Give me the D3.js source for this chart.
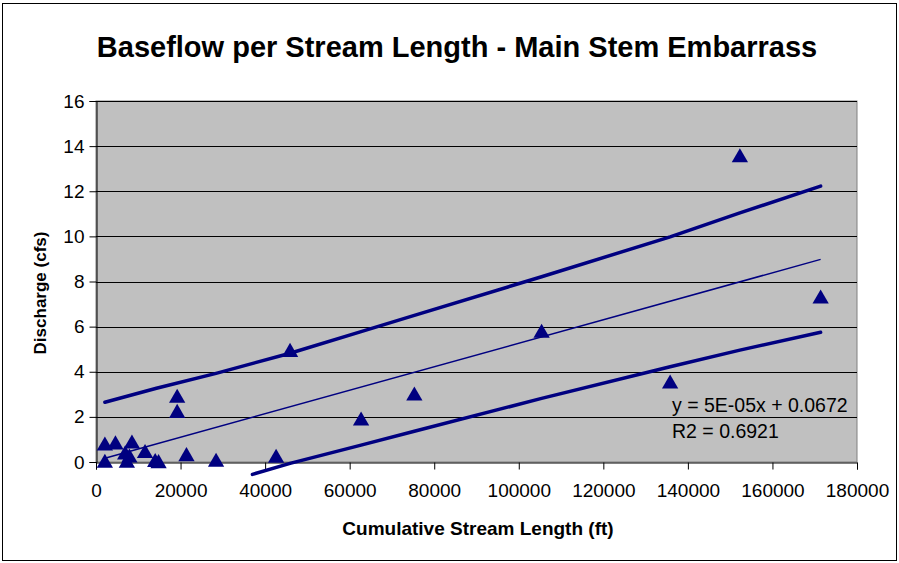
<!DOCTYPE html>
<html><head><meta charset="utf-8">
<script src="https://cdn.jsdelivr.net/npm/d3@7"></script>
<style>body{margin:0;background:#fff}svg{display:block}</style>
</head><body>
<svg id="c" width="899" height="563"></svg>
<script>
const title = "Baseflow per Stream Length - Main Stem Embarrass";
const xTitle = "Cumulative Stream Length (ft)";
const yTitle = "Discharge (cfs)";
const xTicks = [0,20000,40000,60000,80000,100000,120000,140000,160000,180000];
const yTicks = [0,2,4,6,8,10,12,14,16];
const pointX = [2100,2100,4600,6900,7300,7900,8500,11600,14000,14800,19200,19200,21400,28400,42600,45900,62700,75300,105400,135800,152300,171400];
const pointY = [0.78,0.02,0.83,0.39,0.02,0.25,0.87,0.45,0.05,0.0,2.9,2.23,0.31,0.06,0.24,4.93,1.89,3.0,5.78,3.53,13.56,7.3];
const trendX = [2100,171400];
const trendY = [0.17,8.98];
const upperX = [2100,14300,28400,45900,62700,75300,105400,135800,152300,171400];
const upperY = [2.65,3.27,3.93,4.82,5.78,6.50,8.21,9.98,11.04,12.23];
const lowerX = [37000,45900,62700,75300,105400,135800,152300,171400];
const lowerY = [-0.55,-0.06,0.75,1.36,2.82,4.22,4.96,5.75];
const eqLines = ["y = 5E-05x + 0.0672","R2 = 0.6921"];

const svg = d3.select("#c");
const W=899,H=563;
const L=96,R=857,T=101,B=462;
const x = d3.scaleLinear().domain([0,180000]).range([L,R]);
const y = d3.scaleLinear().domain([0,16]).range([B,T]);
const font = "'Liberation Sans', Arial, sans-serif";
const navy = "#000080";

svg.append("rect").attr("x",2.5).attr("y",3.5).attr("width",W-5).attr("height",H-6)
  .attr("fill","#fff").attr("stroke","#000").attr("stroke-width",1);

svg.append("rect").attr("x",L).attr("y",T).attr("width",R-L).attr("height",B-T)
  .attr("fill","#c0c0c0").attr("stroke","#808080");

// gridlines
svg.append("g").selectAll("line").data(yTicks.filter(d=>d>0)).join("line")
  .attr("x1",L).attr("x2",R).attr("y1",d=>Math.round(y(d))+0.5).attr("y2",d=>Math.round(y(d))+0.5)
  .attr("stroke","#000").attr("stroke-width",1);

// y axis
const ya = d3.axisLeft(y).tickValues(yTicks).tickSize(7).tickPadding(5).tickFormat(d3.format("d"));
const gy = svg.append("g").attr("transform",`translate(${L+0.5},0)`).call(ya);
gy.selectAll("text").attr("font-family",font).attr("font-size",19).attr("fill","#000");
gy.select(".domain").attr("stroke","#000");
gy.selectAll(".tick line").attr("stroke","#000");

// x axis
const xa = d3.axisBottom(x).tickValues(xTicks).tickSize(7).tickPadding(14).tickFormat(d3.format("d"));
const gx = svg.append("g").attr("transform",`translate(0,${B+0.5})`).call(xa);
gx.selectAll("text").attr("font-family",font).attr("font-size",19).attr("fill","#000");
gx.select(".domain").attr("stroke","#000");
gx.selectAll(".tick line").attr("stroke","#000");

// lines
const line = d3.line().x(d=>x(d[0])).y(d=>y(d[1]));
svg.append("path").datum(upperX.map((v,i)=>[v,upperY[i]])).attr("d",line)
  .attr("fill","none").attr("stroke",navy).attr("stroke-width",3.5).attr("stroke-linecap","round");
svg.append("path").datum(lowerX.map((v,i)=>[v,lowerY[i]])).attr("d",line)
  .attr("fill","none").attr("stroke",navy).attr("stroke-width",3.5).attr("stroke-linecap","round");
svg.append("path").datum(trendX.map((v,i)=>[v,trendY[i]])).attr("d",line)
  .attr("fill","none").attr("stroke",navy).attr("stroke-width",1.5);

// markers
const tri = d3.symbol().type(d3.symbolTriangle).size(115);
svg.append("g").selectAll("path").data(pointX.map((v,i)=>[v,pointY[i]])).join("path")
  .attr("d",tri).attr("transform",d=>`translate(${x(d[0])},${y(d[1])+1.5})`)
  .attr("fill",navy);

// equation
svg.append("g").selectAll("text").data(eqLines).join("text")
  .attr("x",672).attr("y",(d,i)=>412+i*26).text(d=>d)
  .attr("font-family",font).attr("font-size",19.5).attr("fill","#000");

// titles
svg.append("text").attr("x",457).attr("y",57).attr("text-anchor","middle")
  .attr("font-family",font).attr("font-weight","bold").attr("font-size",29).text(title);
svg.append("text").attr("x",478).attr("y",535).attr("text-anchor","middle")
  .attr("font-family",font).attr("font-weight","bold").attr("font-size",19).text(xTitle);
svg.append("text").attr("transform","translate(46,293) rotate(-90)").attr("text-anchor","middle")
  .attr("font-family",font).attr("font-weight","bold").attr("font-size",17).text(yTitle);
</script>
</body></html>
